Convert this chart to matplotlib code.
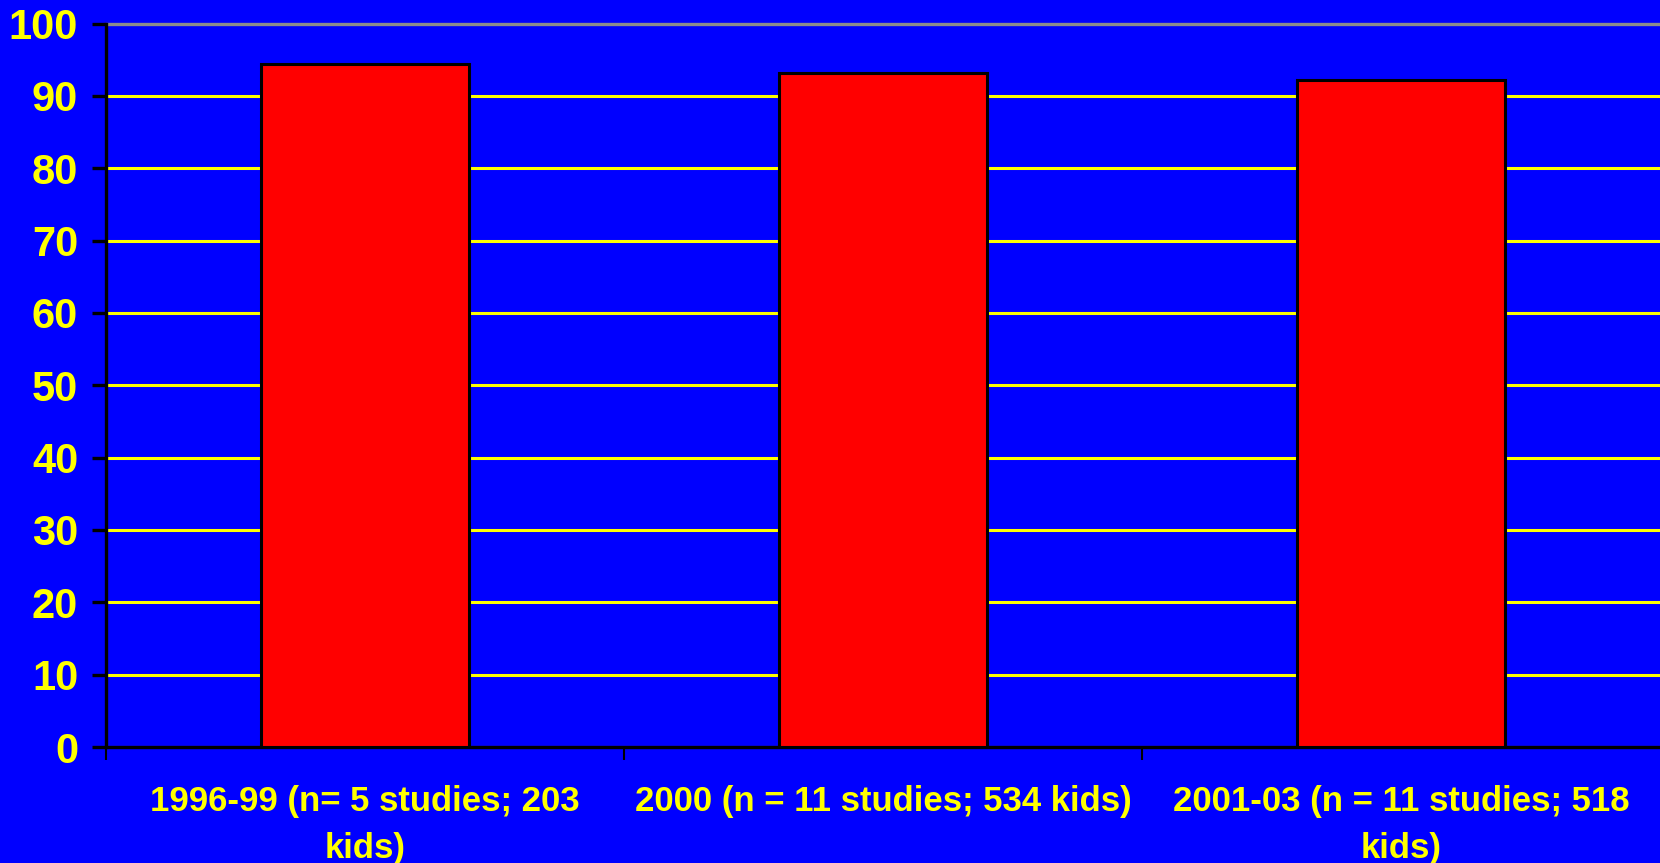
import matplotlib.pyplot as plt
import numpy as np

categories = ["1996-99 (n= 5 studies; 203\nkids)",
              "2000 (n = 11 studies; 534 kids)",
              "2001-03 (n = 11 studies; 518\nkids)"]
values = [94.4, 93.1, 92.2]
yticks = list(range(0, 101, 10))

plt.rcParams['font.family'] = ['Liberation Sans', 'DejaVu Sans']
plt.rcParams['font.weight'] = 'bold'

fig = plt.figure(figsize=(16.6, 8.63), dpi=100)
fig.patch.set_facecolor("#0000ff")
ax = fig.add_axes([106/1660, 1-747/863, 1-106/1660, (747-23.5)/863])
ax.set_facecolor("#0000ff")

x = np.arange(len(categories))
ax.bar(x, values, width=0.4, color="#ff0000", edgecolor="black", linewidth=2.2, zorder=3)

ax.set_xlim(-0.5, 2.5)
ax.set_ylim(0, 100)
ax.set_yticks(yticks)
# category boundaries get the tick marks, centres get the labels
ax.set_xticks(np.arange(-0.5, 2.5, 1.0), minor=False)
ax.set_xticklabels([])
ax.set_xticks(x, minor=True)
ax.set_xticklabels(categories, minor=True)

ax.grid(axis="y", color="#ffff00", linewidth=2.2, zorder=1)
ax.set_axisbelow(True)
grid = ax.yaxis.get_gridlines()
grid[-1].set_color("#8c8c8c")
grid[-1].set_linewidth(2.4)
grid[-1].set_clip_on(False)

for s in ["top", "right"]:
    ax.spines[s].set_visible(False)
for s in ["left", "bottom"]:
    ax.spines[s].set_linewidth(2.4)
    ax.spines[s].set_color("black")

ax.tick_params(axis="y", length=10, width=2.4, color="black", labelcolor="#ffff00",
               labelsize=30, pad=10)
ax.tick_params(axis="x", which="major", length=9, width=1.5, color="black")
ax.tick_params(axis="x", which="minor", length=0, labelcolor="#ffff00", labelsize=25, pad=27)
for lab in ax.get_xticklabels(minor=True):
    lab.set_linespacing(1.55)
    lab.set_fontweight("bold")
for lab in ax.get_yticklabels():
    lab.set_fontweight("bold")

plt.savefig("out.png", dpi=100, facecolor=fig.get_facecolor())
